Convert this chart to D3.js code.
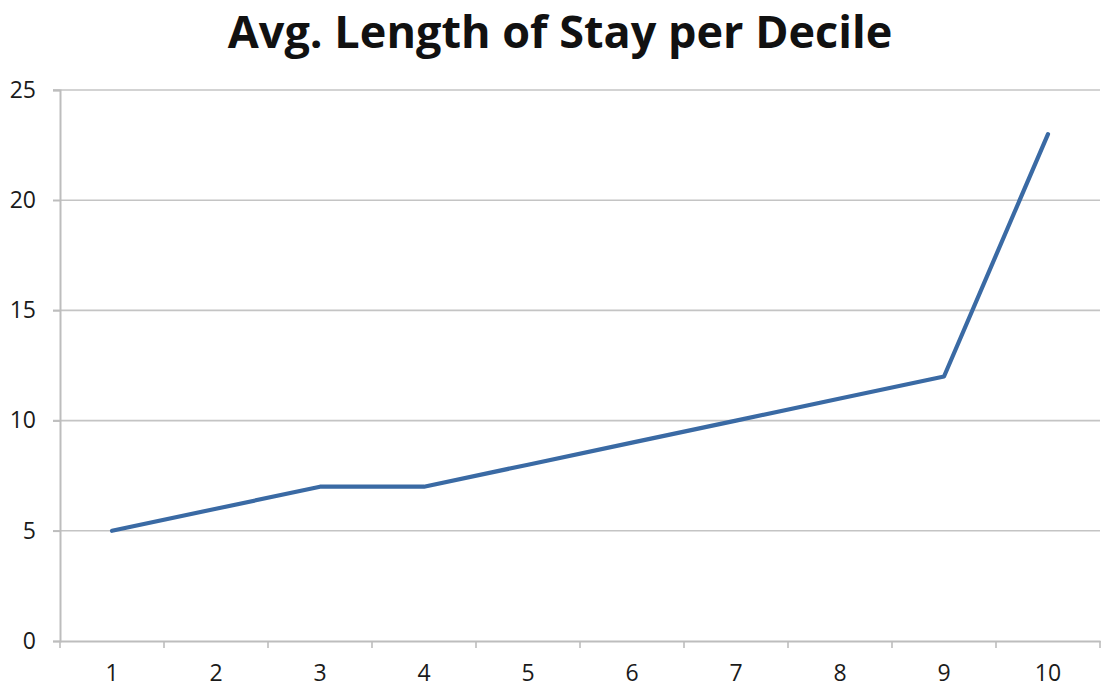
<!DOCTYPE html>
<html><head><meta charset="utf-8">
<script src="https://cdn.jsdelivr.net/npm/d3@7"></script>
<style>body{margin:0;background:#fff}svg{display:block}</style>
</head><body>
<svg id="c" width="1106" height="693"></svg>
<script>
const categories = ["1","2","3","4","5","6","7","8","9","10"];
const values = [5, 6, 7, 7, 8, 9, 10, 11, 12, 23];
const yTicks = [0, 5, 10, 15, 20, 25];
const title = "Avg. Length of Stay per Decile";

const svg = d3.select("#c");
const mLeft = 60, mRight = 1100, mTop = 90, mBottom = 641;
const font = "'Open Sans', 'DejaVu Sans', sans-serif";

const x = d3.scaleBand().domain(categories).range([mLeft, mRight]);
const y = d3.scaleLinear().domain([0, 25]).range([mBottom, mTop]);

// gridlines
svg.append("g").selectAll("line").data(yTicks.filter(d => d > 0)).join("line")
  .attr("x1", mLeft - 7).attr("x2", mRight)
  .attr("y1", d => y(d)).attr("y2", d => y(d))
  .attr("stroke", "#c4c4c4").attr("stroke-width", 1.6);

// y axis
const yAxis = svg.append("g").attr("transform", `translate(${mLeft},0)`)
  .call(d3.axisLeft(y).tickValues(yTicks).tickSize(7).tickPadding(17));
yAxis.select(".domain").attr("stroke", "#bdbdbd").attr("stroke-width", 2);
yAxis.selectAll(".tick line").attr("stroke", "#bdbdbd").attr("stroke-width", 1.6);
yAxis.selectAll("text").attr("font-family", font).attr("font-size", 23).attr("fill", "#1a1a1a");

// x axis
const xAxis = svg.append("g").attr("transform", `translate(0,${mBottom})`)
  .call(d3.axisBottom(x).tickSize(0).tickPadding(24));
xAxis.select(".domain").attr("stroke", "#bdbdbd").attr("stroke-width", 2);
xAxis.selectAll("text").attr("font-family", font).attr("font-size", 23).attr("fill", "#1a1a1a");
// category boundary ticks
const bounds = categories.map(c => x(c)).concat([mRight]);
svg.append("g").selectAll("line").data(bounds).join("line")
  .attr("x1", d => d).attr("x2", d => d)
  .attr("y1", mBottom).attr("y2", mBottom + 7)
  .attr("stroke", "#bdbdbd").attr("stroke-width", 1.6);

// line
const line = d3.line()
  .x((d, i) => x(categories[i]) + x.bandwidth() / 2)
  .y(d => y(d));
svg.append("path").datum(values)
  .attr("d", line).attr("fill", "none")
  .attr("stroke", "#3a6aa4").attr("stroke-width", 4.2)
  .attr("stroke-linejoin", "round").attr("stroke-linecap", "round");

// title
svg.append("text").attr("x", 560).attr("y", 48)
  .attr("text-anchor", "middle")
  .attr("font-family", font).attr("font-weight", "bold").attr("font-size", 45)
  .attr("fill", "#111").text(title);
</script>
</body></html>
